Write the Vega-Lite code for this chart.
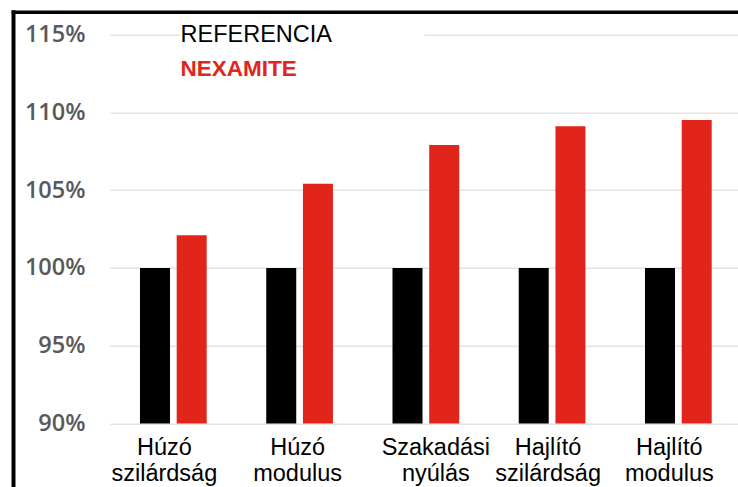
{
  "$schema": "https://vega.github.io/schema/vega-lite/v6.json",
  "autosize": "none",
  "padding": {"left": 13, "top": 11.7, "right": 0, "bottom": 0},
  "width": 725,
  "height": 475.3,
  "background": "white",
  "config": {"view": {"stroke": null}},
  "data": {
    "values": [
      {"cat": "Húzó szilárdság", "series": "REFERENCIA", "value": 100},
      {"cat": "Húzó szilárdság", "series": "NEXAMITE", "value": 102.1},
      {"cat": "Húzó modulus", "series": "REFERENCIA", "value": 100},
      {"cat": "Húzó modulus", "series": "NEXAMITE", "value": 105.4},
      {"cat": "Szakadási nyúlás", "series": "REFERENCIA", "value": 100},
      {"cat": "Szakadási nyúlás", "series": "NEXAMITE", "value": 107.9},
      {"cat": "Hajlító szilárdság", "series": "REFERENCIA", "value": 100},
      {"cat": "Hajlító szilárdság", "series": "NEXAMITE", "value": 109.1},
      {"cat": "Hajlító modulus", "series": "REFERENCIA", "value": 100},
      {"cat": "Hajlító modulus", "series": "NEXAMITE", "value": 109.5}
    ]
  },
  "mark": {"type": "bar"},
  "encoding": {
    "x": {
      "field": "cat",
      "type": "nominal",
      "sort": null,
      "scale": {"paddingInner": 0.4, "paddingOuter": 0.5713, "align": 0.849},
      "axis": {
        "orient": "top",
        "title": null,
        "domain": true,
        "domainColor": "#000000",
        "domainWidth": 3.5,
        "domainCap": "square",
        "ticks": false,
        "grid": false,
        "labelAngle": 0,
        "labelAlign": "center",
        "labelBaseline": "alphabetic",
        "labelPadding": -442.8,
        "labelFont": "Liberation Sans",
        "labelFontSize": 23.5,
        "labelColor": "#000000",
        "labelLineHeight": 25.5,
        "labelExpr": "split(datum.label, ' ')",
        "labelOverlap": false,
        "labelLimit": 300,
        "labelFlush": false,
        "labelOffset": {
          "condition": [
            {"test": "datum.value === 'Húzó szilárdság'", "value": -9},
            {"test": "datum.value === 'Húzó modulus'", "value": -2},
            {"test": "datum.value === 'Szakadási nyúlás'", "value": 10},
            {"test": "datum.value === 'Hajlító szilárdság'", "value": -4}
          ],
          "value": -9
        }
      }
    },
    "xOffset": {
      "field": "series",
      "type": "nominal",
      "sort": ["REFERENCIA", "NEXAMITE"],
      "scale": {"paddingInner": 0.1826, "paddingOuter": 0.123}
    },
    "y": {
      "field": "value",
      "type": "quantitative",
      "scale": {"domain": [85.919, 116.465], "nice": false, "zero": false},
      "axis": {
        "orient": "left",
        "title": null,
        "values": [90, 95, 100, 105, 110, 115],
        "labelExpr": "datum.value + '%'",
        "domain": true,
        "domainColor": "#000000",
        "domainWidth": 4,
        "domainCap": "square",
        "ticks": false,
        "labelPadding": -72,
        "labelAlign": "right",
        "labelBaseline": "middle",
        "labelFont": "Open Sans",
        "labelFontSize": 23.5,
        "labelFontWeight": 600,
        "labelColor": "#595959",
        "grid": true,
        "gridColor": "#e3e3e3",
        "gridWidth": 1.5,
        "gridDash": {"condition": {"test": "datum.value === 115", "value": [0, 97, 70, 244, 2000]}, "value": [0, 97, 2000]}
      }
    },
    "y2": {"datum": 90},
    "color": {
      "field": "series",
      "type": "nominal",
      "scale": {"domain": ["REFERENCIA", "NEXAMITE"], "range": ["#000000", "#e1251b"]},
      "legend": {
        "orient": "none",
        "legendX": 144,
        "legendY": 12,
        "title": null,
        "symbolSize": 0,
        "symbolOpacity": 0,
        "symbolStrokeWidth": 0,
        "labelOffset": 0,
        "labelFont": "Liberation Sans",
        "labelFontSize": 23.5,
        "labelBaseline": "middle",
        "rowPadding": 10,
        "padding": 0,
        "encode": {
          "labels": {
            "update": {
              "fill": {"signal": "datum.value === 'NEXAMITE' ? '#e1251b' : '#000000'"},
              "fontWeight": {"signal": "datum.value === 'NEXAMITE' ? 'bold' : 'normal'"},
              "fontSize": {"signal": "datum.value === 'NEXAMITE' ? 22.5 : 23.5"}
            }
          }
        }
      }
    }
  }
}
